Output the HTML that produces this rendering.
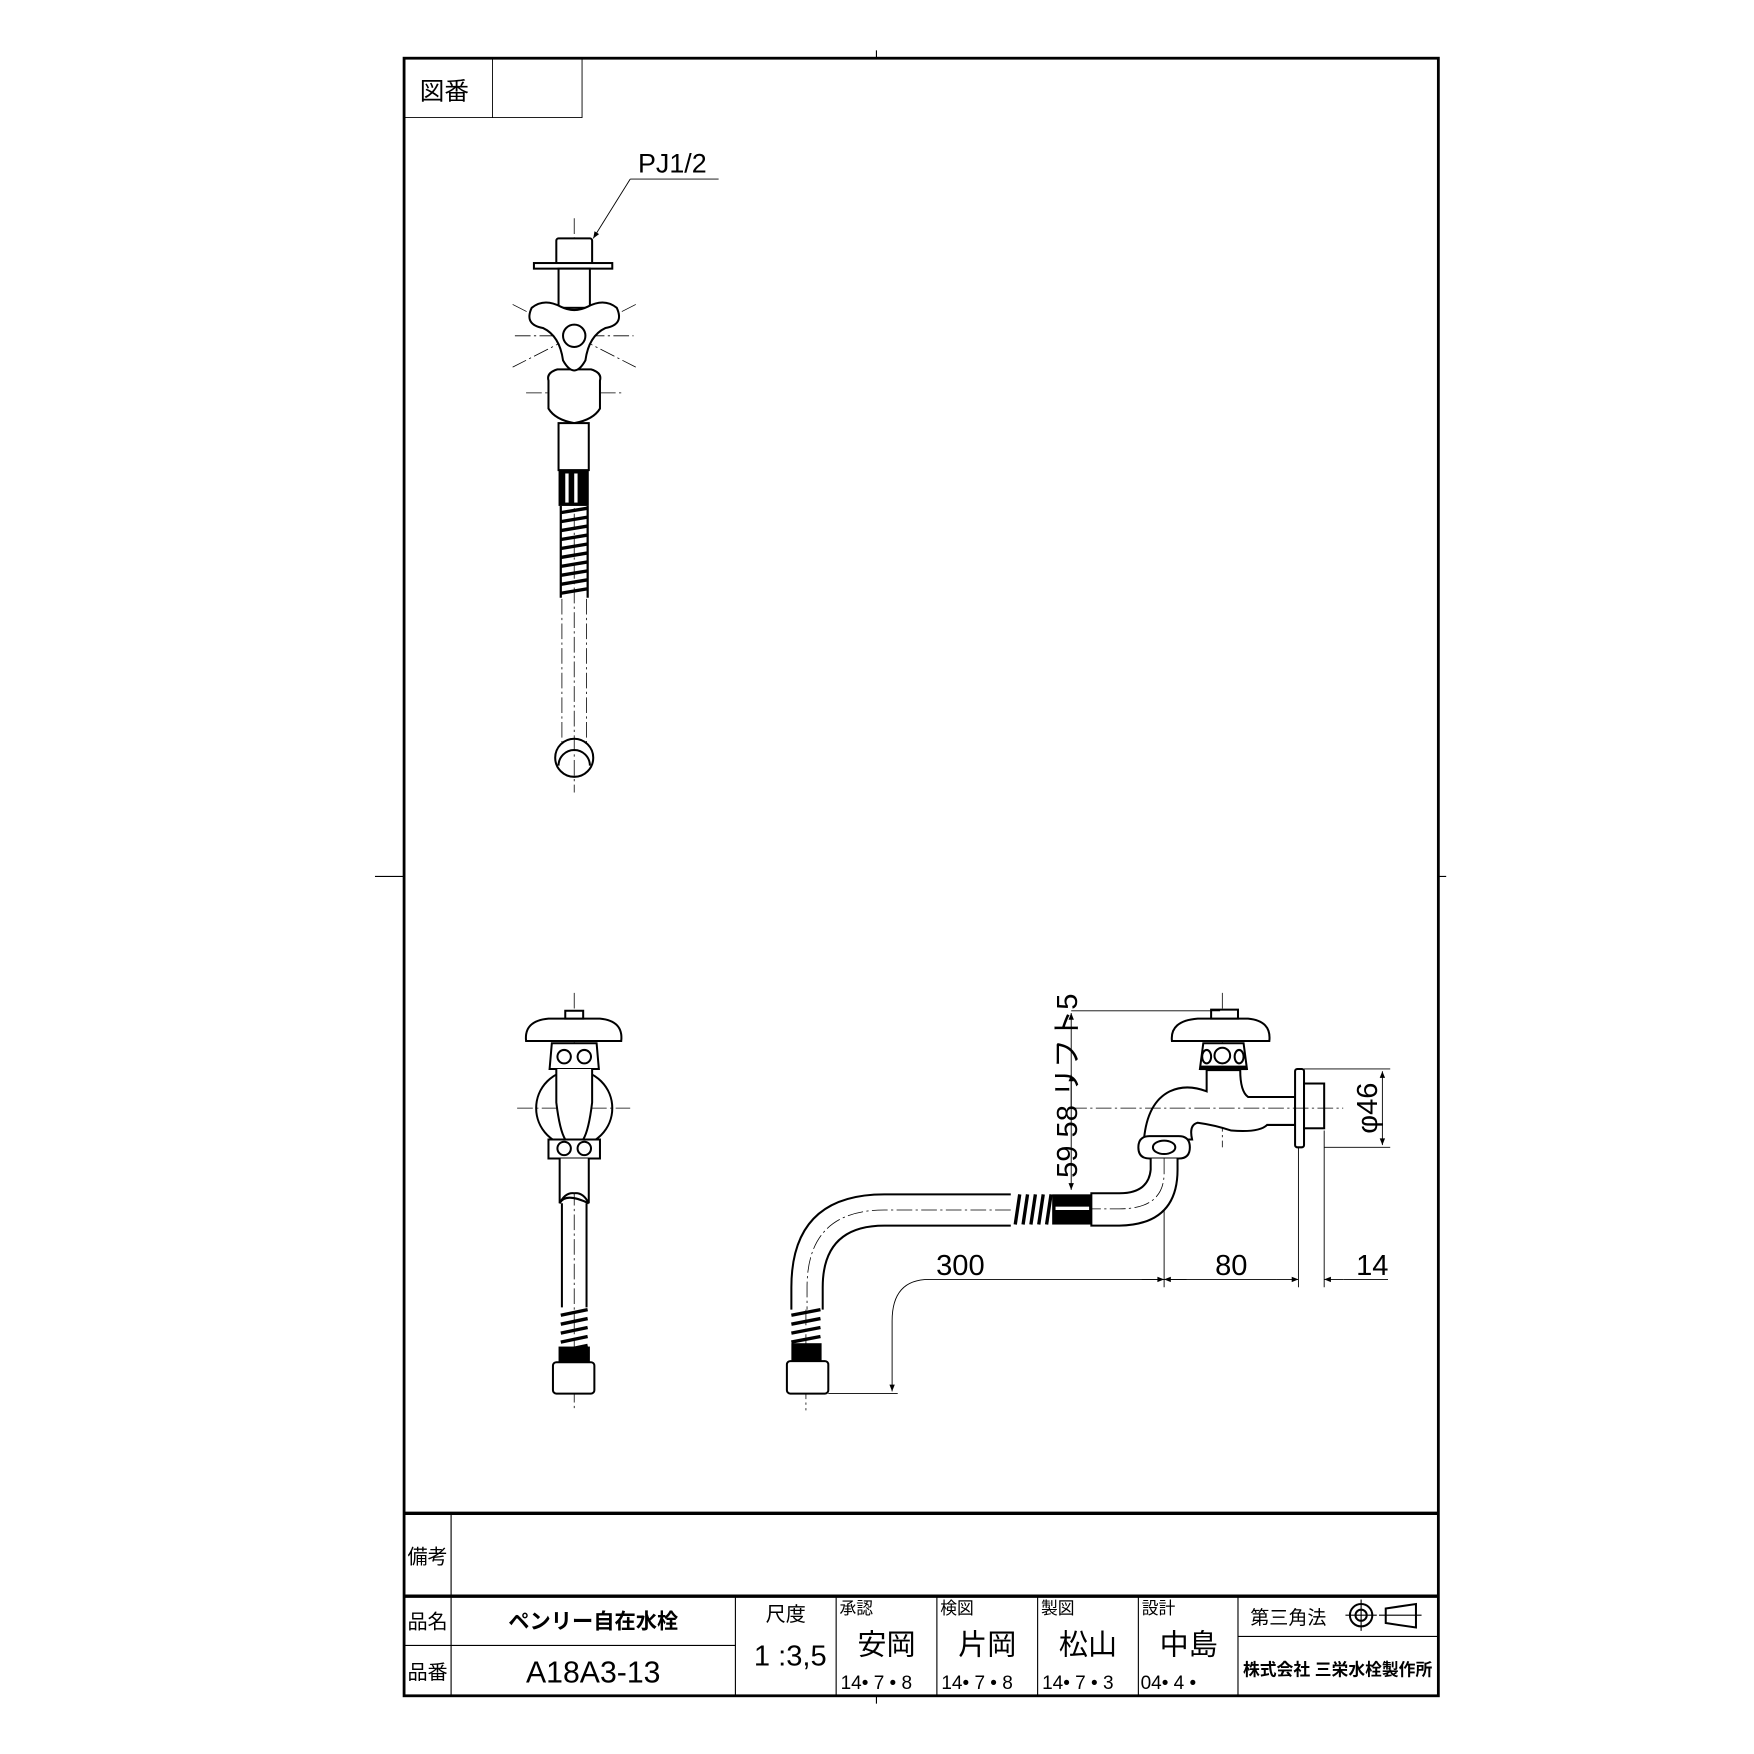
<!DOCTYPE html>
<html><head><meta charset="utf-8"><style>
html,body{margin:0;padding:0;background:#fff}
svg{display:block}
text{font-family:"Liberation Sans","Noto Sans CJK JP",sans-serif;fill:#000}
.b{fill:none;stroke:#000;stroke-width:1.8}
.t{fill:none;stroke:#000;stroke-width:0.8}
.c{fill:none;stroke:#000;stroke-width:0.7;stroke-dasharray:14 3 2 3}
.w{fill:#fff;stroke:#000;stroke-width:1.8}
</style></head><body>
<svg width="1754" height="1754" viewBox="0 0 1567 1567" xmlns="http://www.w3.org/2000/svg">
<defs>
<marker id="ar" viewBox="0 0 10 10" refX="10" refY="5" markerWidth="12" markerHeight="6" orient="auto-start-reverse" markerUnits="userSpaceOnUse"><path d="M0,1 L10,5 L0,9 Z" fill="#000"/></marker>
</defs>
<rect x="361" y="52" width="924" height="1463" fill="none" stroke="#000" stroke-width="2.5"/>
<line x1="783" y1="45" x2="783" y2="52" stroke="#000"/>
<line x1="335" y1="783" x2="361" y2="783" stroke="#000"/>
<line x1="1285" y1="783" x2="1292" y2="783" stroke="#000"/>
<line x1="783" y1="1515" x2="783" y2="1522" stroke="#000"/>
<path d="M361,105 H520 V52 M440,52 V105" class="t" stroke-width="1"/>
<text x="375" y="89" font-size="22">図番</text>
<line x1="361" y1="1352" x2="1285" y2="1352" stroke="#000" stroke-width="3"/>
<line x1="361" y1="1426" x2="1285" y2="1426" stroke="#000" stroke-width="3"/>
<line x1="403" y1="1352" x2="403" y2="1515" stroke="#000" stroke-width="1"/>
<line x1="361" y1="1470" x2="657" y2="1470" stroke="#000" stroke-width="1"/>
<g stroke="#000" stroke-width="1">
<line x1="657" y1="1426" x2="657" y2="1515"/>
<line x1="747" y1="1426" x2="747" y2="1515"/>
<line x1="837" y1="1426" x2="837" y2="1515"/>
<line x1="927" y1="1426" x2="927" y2="1515"/>
<line x1="1017" y1="1426" x2="1017" y2="1515"/>
<line x1="1106" y1="1426" x2="1106" y2="1515"/>
<line x1="1106" y1="1462" x2="1285" y2="1462"/>
</g>
<text x="364" y="1397" font-size="18">備考</text>
<text x="364" y="1455" font-size="18">品名</text>
<text x="364" y="1500" font-size="18">品番</text>
<text x="530" y="1455" font-size="19" font-weight="bold" text-anchor="middle">ペンリー自在水栓</text>
<text x="530" y="1503" font-size="27" text-anchor="middle">A18A3-13</text>
<text x="702" y="1448" font-size="18" text-anchor="middle">尺度</text>
<text x="706" y="1488" font-size="26" text-anchor="middle">1 :3,5</text>
<text x="750" y="1442" font-size="15">承認</text>
<text x="840" y="1442" font-size="15">検図</text>
<text x="930" y="1442" font-size="15">製図</text>
<text x="1020" y="1442" font-size="15">設計</text>
<text x="792" y="1478" font-size="26" text-anchor="middle">安岡</text>
<text x="882" y="1478" font-size="26" text-anchor="middle">片岡</text>
<text x="972" y="1478" font-size="26" text-anchor="middle">松山</text>
<text x="1062" y="1478" font-size="26" text-anchor="middle">中島</text>
<text x="751" y="1509" font-size="17">14• 7 • 8</text>
<text x="841" y="1509" font-size="17">14• 7 • 8</text>
<text x="931" y="1509" font-size="17">14• 7 • 3</text>
<text x="1019" y="1509" font-size="17">04• 4 •</text>
<text x="1117" y="1451" font-size="17">第三角法</text>
<circle cx="1216" cy="1443" r="10" class="b" stroke-width="2"/>
<circle cx="1216" cy="1443" r="5" class="b" stroke-width="2"/>
<line x1="1202" y1="1443" x2="1230" y2="1443" stroke="#000"/>
<line x1="1216" y1="1429" x2="1216" y2="1457" stroke="#000"/>
<polygon points="1238,1437 1265,1433 1265,1454 1238,1450" class="b" stroke-width="2"/>
<line x1="1232" y1="1443" x2="1270" y2="1443" stroke="#000"/>
<text x="1195" y="1497" font-size="15" font-weight="bold" text-anchor="middle">株式会社 三栄水栓製作所</text>

<line x1="513" y1="195" x2="513" y2="708" class="c"/>
<line x1="460" y1="300" x2="566" y2="300" class="c"/>
<line x1="470" y1="351" x2="557" y2="351" class="c"/>
<line x1="458" y1="272" x2="568" y2="328" class="c"/>
<line x1="568" y1="272" x2="458" y2="328" class="c"/>
<text x="570" y="154" font-size="24">PJ1/2</text>
<line x1="563" y1="160" x2="642" y2="160" class="t"/>
<line x1="563" y1="160" x2="530" y2="213" class="t" marker-end="url(#ar)"/>
<rect x="497" y="213" width="32" height="23" rx="2" class="w"/>
<rect x="477" y="235" width="70" height="5" class="w"/>
<rect x="499" y="240" width="28" height="35" class="w"/>
<path d="M490,340 Q488,333 498,330 L528,330 Q538,333 536,340 L536,365 Q530,375 513,378 Q496,375 490,365 Z" class="w"/>
<path d="M475,275 Q468,290 485,293 Q500,300 503,322 Q513,340 523,322 Q526,300 541,293 Q558,290 551,275 Q540,266 525,274 Q513,280 501,274 Q486,266 475,275 Z" class="w"/>
<circle cx="513" cy="300" r="10" class="w"/>
<rect x="499" y="378" width="27" height="42" class="w"/>
<rect x="499" y="420" width="27" height="32" fill="#000"/>
<rect x="505" y="423" width="3" height="26" fill="#fff"/><rect x="513" y="423" width="3" height="26" fill="#fff"/>
<g stroke="#000" stroke-width="3">
<line x1="501" y1="458" x2="525" y2="454"/><line x1="501" y1="466" x2="525" y2="462"/><line x1="501" y1="474" x2="525" y2="470"/><line x1="501" y1="482" x2="525" y2="478"/><line x1="501" y1="490" x2="525" y2="486"/><line x1="501" y1="498" x2="525" y2="494"/><line x1="501" y1="506" x2="525" y2="502"/><line x1="501" y1="514" x2="525" y2="510"/><line x1="501" y1="522" x2="525" y2="518"/><line x1="501" y1="530" x2="525" y2="526"/>
</g>
<line x1="501" y1="452" x2="501" y2="534" stroke="#000" stroke-width="2"/>
<line x1="525" y1="452" x2="525" y2="534" stroke="#000" stroke-width="2"/>
<line x1="502" y1="535" x2="502" y2="665" class="c"/>
<line x1="524" y1="535" x2="524" y2="665" class="c"/>
<circle cx="513" cy="677" r="17" class="b" stroke-width="2.2"/>
<path d="M499,684 A14,14 0 0 1 527,684" class="b"/>

<line x1="513" y1="887" x2="513" y2="1258" class="c"/>
<line x1="462" y1="990" x2="563" y2="990" class="c"/>
<circle cx="513" cy="990" r="34" class="b"/>
<path d="M470,930 Q468,912 490,910 L536,910 Q557,912 555,930 Z" class="w"/>
<rect x="505" y="903" width="16" height="7" class="w"/>
<path d="M493,932 L533,932 L535,955 L491,955 Z" class="w"/>
<ellipse cx="504" cy="944" rx="6" ry="6" class="b"/><ellipse cx="522" cy="944" rx="6" ry="6" class="b"/>
<path d="M497,955 L497,985 Q500,1010 505,1018 L521,1018 Q526,1010 529,985 L529,955" class="w"/>
<path d="M490,1018 L536,1018 L536,1035 L490,1035 Z" class="w"/>
<ellipse cx="504" cy="1026" rx="6" ry="6" class="b"/><ellipse cx="522" cy="1026" rx="6" ry="6" class="b"/>
<path d="M500,1035 L500,1075 Q505,1065 513,1066 Q521,1065 526,1075 L526,1035" class="w"/>
<path d="M500,1075 Q505,1065 526,1075" class="b"/>
<line x1="502" y1="1075" x2="502" y2="1168" class="b"/>
<line x1="524" y1="1075" x2="524" y2="1168" class="b"/>
<g stroke="#000" stroke-width="3">
<line x1="501" y1="1175" x2="525" y2="1170"/><line x1="501" y1="1183" x2="525" y2="1178"/><line x1="501" y1="1191" x2="525" y2="1186"/><line x1="501" y1="1199" x2="525" y2="1194"/><line x1="501" y1="1207" x2="525" y2="1202"/>
</g>
<rect x="499" y="1203" width="28" height="14" fill="#000"/>
<rect x="494" y="1217" width="37" height="28" rx="3" class="w"/>

<line x1="1092" y1="887" x2="1092" y2="1025" class="c"/>
<line x1="1040" y1="1000" x2="1040" y2="1150" class="t"/>
<line x1="720" y1="1170" x2="720" y2="1260" class="c"/>
<path d="M1047,930 Q1045,912 1070,910 L1115,910 Q1136,912 1134,930 Z" class="w"/>
<rect x="1082" y="902" width="24" height="8" class="w"/>
<path d="M1075,932 L1111,932 L1114,955 L1072,955 Z" class="w"/>
<ellipse cx="1092" cy="943" rx="7" ry="7" class="b"/><ellipse cx="1078" cy="944" rx="4" ry="6" class="b"/><ellipse cx="1107" cy="944" rx="4" ry="6" class="b"/>
<rect x="1072" y="952" width="42" height="4" fill="#000"/>
<path d="M1078,956 L1078,975 Q1060,968 1045,975 Q1025,985 1022,1018 L1065,1018 Q1062,1005 1070,1003 Q1085,1005 1100,1010 Q1125,1012 1132,1005 L1157,1005 L1157,980 L1115,980 Q1108,975 1108,956 Z" class="w"/>
<rect x="1157" y="955" width="8" height="70" rx="2" class="w"/>
<rect x="1165" y="968" width="18" height="40" class="w"/>
<line x1="957" y1="990" x2="1200" y2="990" class="c"/>
<path d="M1017,1025 Q1017,1015 1027,1015 L1053,1015 Q1063,1015 1063,1025 Q1063,1035 1053,1035 L1027,1035 Q1017,1035 1017,1025 Z" class="w"/>
<ellipse cx="1040" cy="1025" rx="10" ry="6" class="b"/>
<path d="M1028,1035 L1028,1045 Q1026,1066 1000,1066 L975,1066 L975,1095 L1000,1095 Q1052,1094 1052,1045 L1052,1035" class="w"/>
<path d="M1040,1035 L1040,1048 Q1040,1080 1000,1080 L975,1080" class="c"/>
<rect x="940" y="1067" width="35" height="27" fill="#000"/>
<rect x="943" y="1078" width="30" height="3" fill="#fff"/>
<g stroke="#000" stroke-width="3">
<line x1="907" y1="1094" x2="911" y2="1067"/><line x1="914" y1="1094" x2="918" y2="1067"/><line x1="921" y1="1094" x2="925" y2="1067"/><line x1="928" y1="1094" x2="932" y2="1067"/><line x1="935" y1="1094" x2="939" y2="1067"/>
</g>
<path d="M903,1067 L790,1067 Q707,1067 707,1150 L707,1170" class="b"/>
<path d="M903,1095 L790,1095 Q735,1095 735,1150 L735,1170" class="b"/>
<path d="M903,1081 L790,1081 Q721,1081 721,1150 L721,1170" class="c"/>
<g stroke="#000" stroke-width="3">
<line x1="707" y1="1175" x2="733" y2="1170"/><line x1="707" y1="1183" x2="733" y2="1178"/><line x1="707" y1="1191" x2="733" y2="1186"/><line x1="707" y1="1199" x2="733" y2="1194"/>
</g>
<rect x="707" y="1200" width="27" height="16" fill="#000"/>
<rect x="703" y="1216" width="37" height="29" rx="3" class="w"/>
<line x1="957" y1="903" x2="1090" y2="903" class="t"/>
<line x1="957" y1="905" x2="957" y2="1063" class="t" marker-start="url(#ar)" marker-end="url(#ar)"/>
<line x1="957" y1="990" x2="957" y2="960" class="t" marker-end="url(#ar)"/>
<text transform="translate(962,970) rotate(-90)" font-size="26" text-anchor="middle">59 58 リフト5</text>
<line x1="1165" y1="955" x2="1242" y2="955" class="t"/>
<line x1="1183" y1="1025" x2="1242" y2="1025" class="t"/>
<line x1="1235" y1="957" x2="1235" y2="1023" class="t" marker-start="url(#ar)" marker-end="url(#ar)"/>
<text transform="translate(1230,990) rotate(-90)" font-size="26" text-anchor="middle">φ46</text>
<line x1="1160" y1="1025" x2="1160" y2="1150" class="t"/>
<line x1="1183" y1="1010" x2="1183" y2="1150" class="t"/>
<path d="M1040,1143 L830,1143 Q797,1143 797,1180 L797,1243" class="t" marker-end="url(#ar)"/>
<line x1="1020" y1="1143" x2="1040" y2="1143" class="t" marker-end="url(#ar)"/>
<line x1="1060" y1="1143" x2="1040" y2="1143" class="t" marker-end="url(#ar)"/>
<line x1="1040" y1="1143" x2="1140" y2="1143" class="t"/>
<line x1="1140" y1="1143" x2="1160" y2="1143" class="t" marker-end="url(#ar)"/>
<line x1="1200" y1="1143" x2="1183" y2="1143" class="t" marker-end="url(#ar)"/>
<line x1="1200" y1="1143" x2="1240" y2="1143" class="t"/>
<line x1="740" y1="1245" x2="802" y2="1245" class="t"/>
<text x="858" y="1139" font-size="26" text-anchor="middle">300</text>
<text x="1100" y="1139" font-size="26" text-anchor="middle">80</text>
<text x="1226" y="1139" font-size="26" text-anchor="middle">14</text>
</svg>
</body></html>
